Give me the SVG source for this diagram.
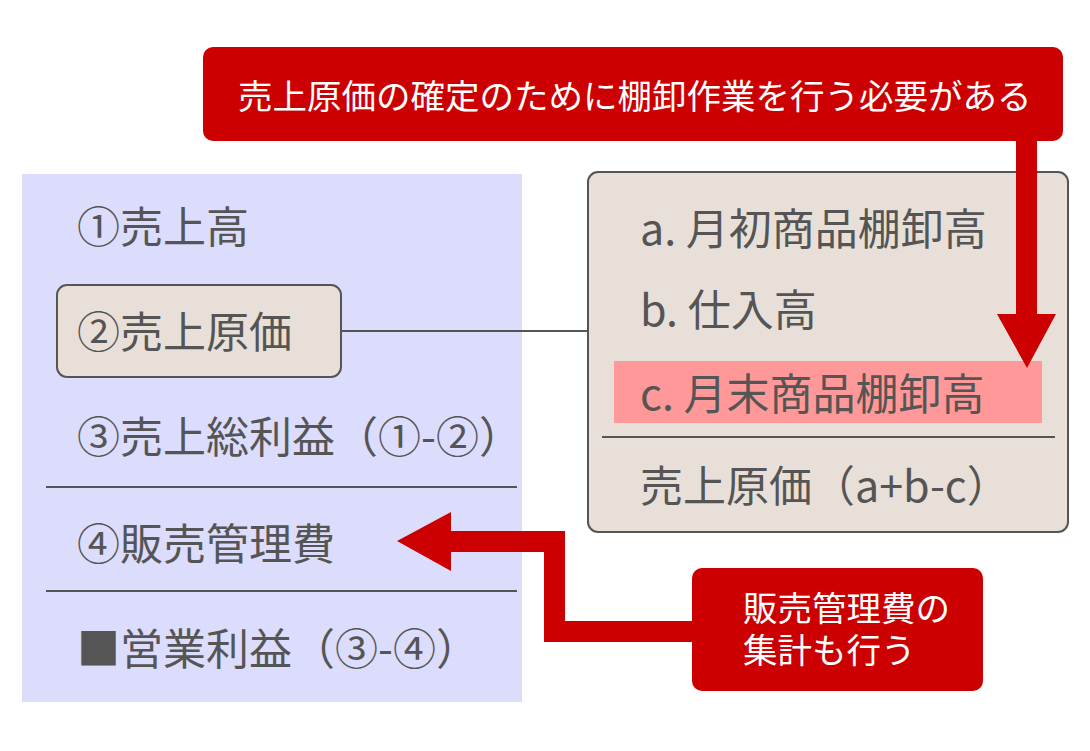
<svg xmlns="http://www.w3.org/2000/svg" width="1090" height="751" viewBox="0 0 1090 751">
<style>
text{font-family:"Noto Sans CJK JP","Noto Sans",sans-serif;}
.t{font-size:43px;fill:#555555;}
.w{font-size:34.5px;fill:#ffffff;}
.box{fill:#e8e0d8;stroke:#555555;stroke-width:2;}
.red{fill:#cc0000;}
.rule{stroke:#555555;stroke-width:2;}
</style>
<rect width="1090" height="751" fill="#ffffff"/>
<g id="left-panel">
<rect x="22" y="174" width="500" height="528" fill="#dcdcfc"/>
<text class="t" x="77" y="243">①売上高</text>
<text class="t" x="77" y="453">③売上総利益（①-②）</text>
<line class="rule" x1="46" y1="487" x2="517" y2="487"/>
<text class="t" x="77" y="560">④販売管理費</text>
<line class="rule" x1="46" y1="591" x2="517" y2="591"/>
<text class="t" x="77" y="665">■営業利益（③-④）</text>
</g>
<g id="node-cost">
<rect class="box" x="57" y="285" width="284" height="92" rx="10"/>
<text class="t" x="77" y="348">②売上原価</text>
</g>
<g id="right-panel">
<rect class="box" x="588" y="172" width="480" height="360" rx="10"/>
<rect x="614" y="361" width="428" height="62" fill="#ff9999"/>
<text class="t" x="640" y="245">a. 月初商品棚卸高</text>
<text class="t" x="640" y="326">b. 仕入高</text>
<text class="t" x="640" y="410">c. 月末商品棚卸高</text>
<line class="rule" x1="602" y1="437" x2="1055" y2="437"/>
<text class="t" x="640" y="502">売上原価（a+b-c）</text>
</g>
<g id="banner">
<rect class="red" x="203" y="47" width="860" height="94" rx="10"/>
<text class="w" x="238" y="109">売上原価の確定のために棚卸作業を行う必要がある</text>
</g>
<g id="note">
<rect class="red" x="692" y="568" width="291" height="123" rx="10"/>
<text class="w"><tspan x="743" y="621">販売管理費の</tspan><tspan x="743" y="663">集計も行う</tspan></text>
</g>
<g id="connectors">
<line x1="341" y1="331" x2="588" y2="331" stroke="#555555" stroke-width="2"/>
<polygon class="red" points="1016,141 1037,141 1037,314 1056,314 1027,368 997,314 1016,314"/>
<polygon class="red" points="397,541 451,512 451,531 565,531 565,621 692,621 692,642 544,642 544,552 451,552 451,571"/>
</g>
</svg>
